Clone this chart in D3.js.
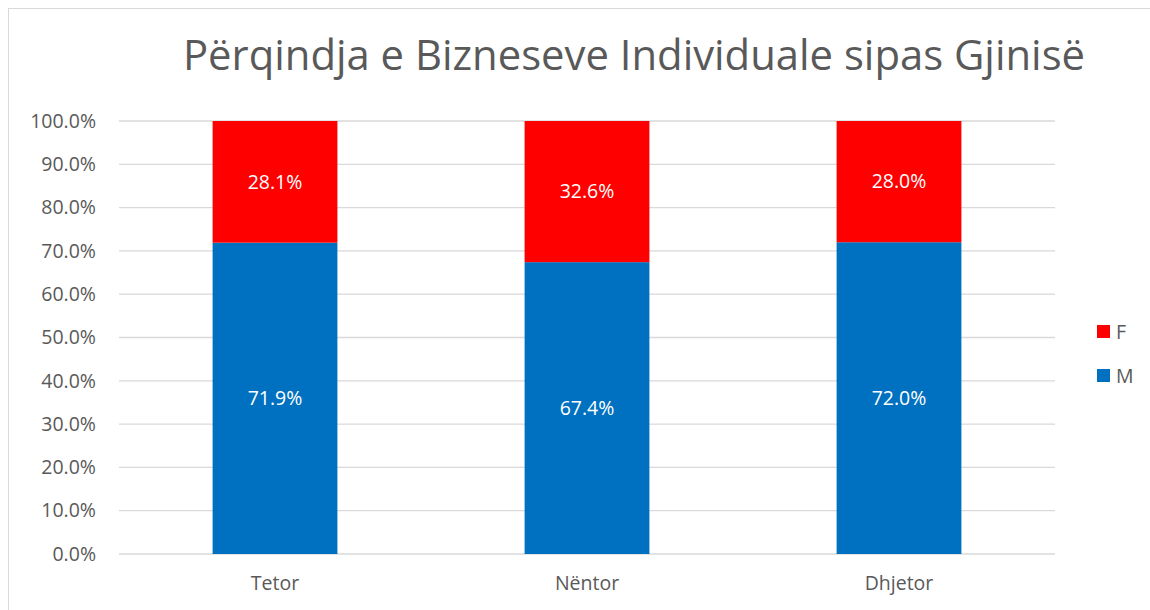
<!DOCTYPE html>
<html lang="sq">
<head>
  <meta charset="UTF-8" />
  <title>Përqindja e Bizneseve Individuale sipas Gjinisë</title>
  <style>
    html, body { margin: 0; background: #fff; }
    body { font-family: "Open Sans", sans-serif; }
    .axis text { fill: #595959; }
  </style>
</head>
<body>
  <svg id="chart" width="1150" height="610"></svg>

  <script src="https://cdn.jsdelivr.net/npm/d3@7/dist/d3.min.js"></script>
  <script>
    // data
    const months = ["Tetor", "Nëntor", "Dhjetor"];
    const maleShare = [0.719, 0.674, 0.720];
    const femaleShare = [0.281, 0.326, 0.280];
    const seriesNames = ["M", "F"];
    const yTicks = [0, 0.1, 0.2, 0.3, 0.4, 0.5, 0.6, 0.7, 0.8, 0.9, 1.0];

    const colors = { M: "#0070C0", F: "#FF0000" };

    const svg = d3.select("#chart");
    const margin = { top: 121, left: 119, right: 95, bottom: 56 };
    const W = +svg.attr("width"), H = +svg.attr("height");
    const width = W - margin.left - margin.right;
    const height = H - margin.top - margin.bottom;

    // chart border (frame of the pasted chart)
    svg.append("rect")
      .attr("x", 8.5).attr("y", 8.5)
      .attr("width", W + 10).attr("height", H + 10)
      .attr("fill", "none").attr("stroke", "#d9d9d9");

    // title
    const title = svg.append("text")
      .attr("x", 634).attr("y", 70)
      .attr("text-anchor", "middle")
      .attr("fill", "#595959")
      .style("font-size", "38px")
      .text("Përqindja e Bizneseve Individuale sipas Gjinisë");
    const tw = title.node().getComputedTextLength();
    if (tw > 0) title.style("font-size", (38 * 902 / tw).toFixed(1) + "px");

    const g = svg.append("g")
      .attr("transform", `translate(${margin.left},${margin.top})`);

    const x = d3.scaleBand()
      .domain(months)
      .range([0, width])
      .paddingInner(0.6)
      .paddingOuter(0.3);

    const y = d3.scaleLinear()
      .domain([0, 1])
      .range([height, 0]);

    // gridlines
    g.append("g")
      .selectAll("line")
      .data(yTicks)
      .join("line")
        .attr("x1", 0).attr("x2", width)
        .attr("y1", d => y(d)).attr("y2", d => y(d))
        .attr("stroke", "#d9d9d9")
        .attr("stroke-width", 1.3);

    // y axis
    g.append("g")
      .attr("class", "axis")
      .style("font-size", "19.5px")
      .call(d3.axisLeft(y).tickValues(yTicks).tickFormat(d3.format(".1%")).tickSize(0).tickPadding(23))
      .call(s => s.select(".domain").remove())
      .selectAll("text").attr("font-family", "Open Sans");

    // x axis
    g.append("g")
      .attr("class", "axis")
      .attr("transform", `translate(0,${height})`)
      .style("font-size", "19.5px")
      .call(d3.axisBottom(x).tickSize(0).tickPadding(22))
      .call(s => s.select(".domain").remove())
      .selectAll("text").attr("font-family", "Open Sans");

    // stacked data
    const rows = months.map((m, i) => ({ month: m, M: maleShare[i], F: femaleShare[i] }));
    const stacked = d3.stack().keys(seriesNames)(rows);

    const layers = g.selectAll(".layer")
      .data(stacked)
      .join("g")
        .attr("class", "layer")
        .attr("fill", d => colors[d.key]);

    layers.selectAll("rect")
      .data(d => d)
      .join("rect")
        .attr("x", d => x(d.data.month))
        .attr("width", x.bandwidth())
        .attr("y", d => y(d[1]))
        .attr("height", d => y(d[0]) - y(d[1]));

    layers.selectAll("text")
      .data(d => d)
      .join("text")
        .attr("x", d => x(d.data.month) + x.bandwidth() / 2)
        .attr("y", d => (y(d[0]) + y(d[1])) / 2)
        .attr("dy", "0.35em")
        .attr("text-anchor", "middle")
        .attr("fill", "#fff")
        .style("font-size", "19.5px")
        .text(d => d3.format(".1%")(d[1] - d[0]));

    // legend (F on top, M below)
    const legend = svg.append("g")
      .attr("transform", "translate(1097,325)");

    ["F", "M"].forEach((k, i) => {
      const row = legend.append("g").attr("transform", `translate(0,${i * 44})`);
      row.append("rect")
        .attr("width", 13).attr("height", 13)
        .attr("fill", colors[k]);
      row.append("text")
        .attr("x", 19).attr("y", 7)
        .attr("dy", "0.35em")
        .attr("fill", "#595959")
        .style("font-size", "19.5px")
        .text(k);
    });
  </script>
</body>
</html>
